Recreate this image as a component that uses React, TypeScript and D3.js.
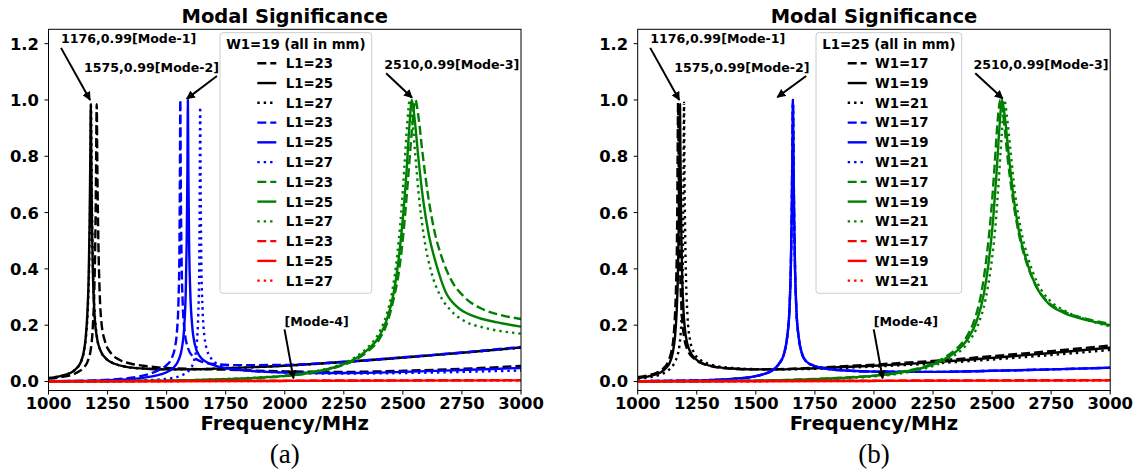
import React from 'react';
import * as d3 from 'd3';

type Pt = [number, number];

// axis ticks
const freqTicks = [1000, 1250, 1500, 1750, 2000, 2250, 2500, 2750, 3000];
const msTicks = [0, 0.2, 0.4, 0.6, 0.8, 1.0, 1.2];

// ---- panel (a): W1 = 19, L1 varies ----
const aBlack23: Pt[] = [[1000,0.010],[1050,0.015],[1100,0.024],[1130,0.036],[1150,0.05],[1165,0.07],[1180,0.12],[1188,0.2],[1194,0.33],[1198,0.5],[1201,0.72],[1204,0.985],[1207,0.74],[1211,0.5],[1216,0.33],[1224,0.21],[1240,0.14],[1265,0.1],[1300,0.077],[1350,0.063],[1400,0.056],[1500,0.048],[1750,0.042],[2000,0.036],[2250,0.034],[2500,0.038],[2750,0.045],[3000,0.055]];
const aBlack25: Pt[] = [[1000,0.012],[1050,0.019],[1080,0.026],[1100,0.034],[1120,0.048],[1135,0.066],[1148,0.1],[1158,0.16],[1165,0.25],[1170,0.37],[1174,0.56],[1177,0.8],[1179,0.985],[1181,0.8],[1184,0.56],[1188,0.38],[1194,0.25],[1204,0.16],[1220,0.11],[1245,0.08],[1280,0.063],[1330,0.052],[1400,0.046],[1500,0.043],[1600,0.043],[1750,0.047],[2000,0.056],[2250,0.069],[2500,0.085],[2750,0.102],[3000,0.121]];
const aBlack27: Pt[] = [[1000,0.012],[1050,0.019],[1080,0.026],[1100,0.034],[1120,0.047],[1135,0.065],[1148,0.098],[1158,0.155],[1166,0.25],[1171,0.37],[1175,0.56],[1178,0.8],[1180,0.98],[1182,0.8],[1185,0.56],[1189,0.38],[1195,0.25],[1205,0.16],[1220,0.11],[1245,0.08],[1280,0.063],[1330,0.052],[1400,0.046],[1500,0.043],[1600,0.043],[1750,0.047],[2000,0.056],[2250,0.069],[2500,0.085],[2750,0.102],[3000,0.12]];
const aBlue23: Pt[] = [[1000,0.001],[1100,0.002],[1200,0.004],[1300,0.009],[1380,0.017],[1430,0.028],[1470,0.042],[1500,0.058],[1520,0.08],[1535,0.12],[1544,0.18],[1550,0.28],[1554,0.45],[1556,0.7],[1558,1.0],[1560,0.7],[1563,0.45],[1568,0.28],[1576,0.18],[1590,0.12],[1610,0.09],[1650,0.07],[1700,0.062],[1800,0.058],[2000,0.059],[2250,0.07],[2500,0.086],[2750,0.103],[3000,0.123]];
const aBlue25: Pt[] = [[1000,0.001],[1100,0.002],[1200,0.003],[1300,0.006],[1400,0.013],[1450,0.02],[1500,0.033],[1530,0.05],[1550,0.075],[1565,0.12],[1575,0.2],[1581,0.32],[1585,0.5],[1588,0.75],[1590,1.0],[1592,0.75],[1595,0.5],[1600,0.32],[1608,0.2],[1620,0.13],[1640,0.09],[1670,0.068],[1720,0.053],[1800,0.042],[1900,0.035],[2000,0.032],[2250,0.03],[2500,0.034],[2750,0.041],[3000,0.048]];
const aBlue27: Pt[] = [[1000,0.0],[1200,0.001],[1350,0.003],[1450,0.006],[1520,0.012],[1570,0.024],[1600,0.045],[1618,0.08],[1628,0.14],[1634,0.24],[1638,0.4],[1640,0.65],[1642,0.975],[1644,0.68],[1647,0.42],[1652,0.26],[1660,0.16],[1672,0.11],[1690,0.08],[1720,0.06],[1780,0.045],[1850,0.038],[2000,0.032],[2250,0.028],[2500,0.03],[2750,0.034],[3000,0.039]];
const aGreen23: Pt[] = [[1000,0.0],[1250,0.001],[1500,0.003],[1750,0.008],[1900,0.013],[2000,0.019],[2100,0.029],[2200,0.046],[2250,0.059],[2300,0.078],[2350,0.106],[2400,0.15],[2430,0.2],[2460,0.29],[2485,0.4],[2505,0.55],[2522,0.72],[2538,0.89],[2553,1.0],[2566,0.94],[2582,0.82],[2605,0.67],[2632,0.54],[2665,0.44],[2705,0.36],[2760,0.3],[2830,0.26],[2920,0.235],[3000,0.222]];
const aGreen25: Pt[] = [[1000,0.0],[1250,0.001],[1500,0.003],[1750,0.008],[1900,0.014],[2000,0.02],[2100,0.03],[2200,0.048],[2250,0.062],[2300,0.082],[2350,0.112],[2400,0.16],[2430,0.215],[2460,0.31],[2480,0.42],[2500,0.58],[2515,0.74],[2527,0.9],[2538,1.0],[2550,0.93],[2565,0.8],[2585,0.65],[2610,0.52],[2640,0.42],[2680,0.32],[2730,0.265],[2800,0.232],[2900,0.21],[3000,0.195]];
const aGreen27: Pt[] = [[1000,0.0],[1250,0.001],[1500,0.003],[1750,0.009],[1900,0.015],[2000,0.021],[2100,0.032],[2200,0.05],[2250,0.065],[2300,0.087],[2350,0.12],[2400,0.175],[2430,0.235],[2455,0.32],[2475,0.44],[2493,0.6],[2507,0.77],[2518,0.91],[2529,1.0],[2540,0.93],[2553,0.8],[2570,0.64],[2592,0.5],[2620,0.39],[2655,0.31],[2700,0.255],[2760,0.215],[2850,0.19],[3000,0.17]];
const aRed23: Pt[] = [[1000,0.001],[1500,0.002],[2000,0.003],[2500,0.004],[3000,0.005]];
const aRed25: Pt[] = [[1000,0.001],[1500,0.001],[2000,0.002],[2500,0.003],[3000,0.004]];
const aRed27: Pt[] = [[1000,0.0],[1500,0.001],[2000,0.002],[2500,0.003],[3000,0.003]];

// ---- panel (b): L1 = 25, W1 varies ----
const bBlack17: Pt[] = [[1000,0.015],[1050,0.023],[1080,0.031],[1100,0.04],[1115,0.052],[1130,0.072],[1142,0.105],[1152,0.16],[1158,0.24],[1163,0.36],[1167,0.56],[1169,0.8],[1171,0.99],[1173,0.8],[1176,0.56],[1180,0.38],[1186,0.25],[1196,0.16],[1212,0.11],[1240,0.08],[1280,0.062],[1330,0.051],[1400,0.045],[1500,0.043],[1600,0.044],[1750,0.049],[2000,0.06],[2250,0.073],[2500,0.09],[2750,0.108],[3000,0.128]];
const bBlack19: Pt[] = [[1000,0.012],[1050,0.019],[1080,0.026],[1100,0.034],[1120,0.048],[1135,0.066],[1148,0.1],[1158,0.16],[1165,0.25],[1170,0.37],[1174,0.56],[1177,0.8],[1179,0.985],[1181,0.8],[1184,0.56],[1188,0.38],[1194,0.25],[1204,0.16],[1220,0.11],[1245,0.08],[1280,0.063],[1330,0.052],[1400,0.046],[1500,0.043],[1600,0.043],[1750,0.047],[2000,0.056],[2250,0.068],[2500,0.084],[2750,0.101],[3000,0.12]];
const bBlack21: Pt[] = [[1000,0.01],[1050,0.015],[1100,0.026],[1130,0.04],[1150,0.058],[1165,0.085],[1177,0.13],[1184,0.2],[1189,0.32],[1192,0.5],[1194,0.75],[1196,0.99],[1198,0.75],[1201,0.52],[1205,0.35],[1211,0.23],[1221,0.15],[1240,0.1],[1270,0.074],[1310,0.06],[1400,0.048],[1500,0.044],[1600,0.043],[1750,0.045],[2000,0.053],[2250,0.064],[2500,0.078],[2750,0.094],[3000,0.112]];
const bBlue17: Pt[] = [[1000,0.001],[1100,0.002],[1200,0.003],[1300,0.005],[1400,0.009],[1480,0.016],[1530,0.025],[1570,0.04],[1600,0.065],[1620,0.1],[1633,0.16],[1642,0.25],[1648,0.4],[1652,0.6],[1655,0.85],[1657,1.0],[1659,0.85],[1662,0.6],[1666,0.4],[1672,0.25],[1681,0.16],[1695,0.1],[1715,0.07],[1750,0.055],[1800,0.045],[1900,0.038],[2000,0.035],[2250,0.034],[2500,0.038],[2750,0.043],[3000,0.049]];
const bBlue19: Pt[] = [[1000,0.001],[1100,0.002],[1200,0.003],[1300,0.005],[1400,0.009],[1480,0.016],[1530,0.025],[1570,0.04],[1600,0.065],[1620,0.1],[1633,0.16],[1642,0.25],[1648,0.4],[1652,0.6],[1655,0.85],[1657,1.0],[1659,0.85],[1662,0.6],[1666,0.4],[1672,0.25],[1681,0.16],[1695,0.1],[1715,0.07],[1750,0.055],[1800,0.045],[1900,0.038],[2000,0.035],[2250,0.034],[2500,0.038],[2750,0.043],[3000,0.049]];
const bBlue21: Pt[] = [[1000,0.001],[1100,0.002],[1200,0.003],[1300,0.005],[1400,0.009],[1480,0.016],[1530,0.025],[1570,0.04],[1600,0.065],[1620,0.1],[1633,0.16],[1642,0.25],[1648,0.4],[1652,0.6],[1655,0.85],[1657,1.0],[1659,0.85],[1662,0.6],[1666,0.4],[1672,0.25],[1681,0.16],[1695,0.1],[1715,0.07],[1750,0.055],[1800,0.045],[1900,0.038],[2000,0.035],[2250,0.034],[2500,0.038],[2750,0.043],[3000,0.049]];
const bGreen17: Pt[] = [[1000,0.0],[1250,0.001],[1500,0.003],[1750,0.009],[1900,0.015],[2000,0.021],[2100,0.032],[2200,0.05],[2250,0.064],[2300,0.086],[2350,0.117],[2400,0.17],[2430,0.23],[2458,0.33],[2478,0.45],[2497,0.61],[2511,0.77],[2523,0.92],[2535,1.0],[2548,0.94],[2565,0.8],[2586,0.66],[2612,0.53],[2643,0.43],[2683,0.345],[2733,0.285],[2800,0.25],[2900,0.222],[3000,0.205]];
const bGreen19: Pt[] = [[1000,0.0],[1250,0.001],[1500,0.003],[1750,0.008],[1900,0.014],[2000,0.02],[2100,0.03],[2200,0.047],[2250,0.06],[2300,0.08],[2350,0.108],[2400,0.155],[2435,0.215],[2465,0.31],[2485,0.42],[2505,0.58],[2519,0.74],[2531,0.9],[2542,1.0],[2554,0.94],[2570,0.81],[2590,0.66],[2615,0.53],[2645,0.43],[2685,0.34],[2735,0.28],[2800,0.245],[2900,0.218],[3000,0.2]];
const bGreen21: Pt[] = [[1000,0.0],[1250,0.001],[1500,0.002],[1750,0.007],[1900,0.012],[2000,0.018],[2100,0.027],[2200,0.043],[2250,0.055],[2300,0.073],[2350,0.098],[2400,0.14],[2440,0.2],[2472,0.29],[2494,0.4],[2514,0.55],[2528,0.71],[2541,0.88],[2552,1.0],[2563,0.94],[2578,0.82],[2597,0.67],[2622,0.54],[2652,0.44],[2692,0.35],[2742,0.29],[2810,0.25],[2900,0.22],[3000,0.195]];
const bRed17: Pt[] = [[1000,0.001],[1500,0.002],[2000,0.003],[2500,0.004],[3000,0.005]];
const bRed19: Pt[] = [[1000,0.001],[1500,0.001],[2000,0.002],[2500,0.003],[3000,0.004]];
const bRed21: Pt[] = [[1000,0.0],[1500,0.001],[2000,0.002],[2500,0.003],[3000,0.003]];

// annotations: label, text anchor (freq, ms), arrow tail, arrow tip
type Note = { text: string; tx: number; ty: number; fx: number; fy: number; px: number; py: number };
const notesA: Note[] = [
  { text: '1176,0.99[Mode-1]', tx: 1053, ty: 1.201, fx: 1053, fy: 1.185, px: 1176, py: 1.0 },
  { text: '1575,0.99[Mode-2]', tx: 1150, ty: 1.1, fx: 1713, fy: 1.085, px: 1585, py: 1.004 },
  { text: '2510,0.99[Mode-3]', tx: 2421, ty: 1.11, fx: 2429, fy: 1.095, px: 2539, py: 1.008 },
  { text: '[Mode-4]', tx: 1999, ty: 0.198, fx: 1999, fy: 0.185, px: 2037, py: 0.011 },
];
const notesB: Note[] = [
  { text: '1176,0.99[Mode-1]', tx: 1053, ty: 1.201, fx: 1053, fy: 1.185, px: 1176, py: 1.0 },
  { text: '1575,0.99[Mode-2]', tx: 1155, ty: 1.1, fx: 1713, fy: 1.085, px: 1591, py: 1.01 },
  { text: '2510,0.99[Mode-3]', tx: 2421, ty: 1.11, fx: 2429, fy: 1.095, px: 2545, py: 1.005 },
  { text: '[Mode-4]', tx: 1999, ty: 0.198, fx: 1999, fy: 0.185, px: 2037, py: 0.011 },
];

type Series = { label: string; color: string; style: string; data: Pt[] };
const mk = (labels: string[], sets: Pt[][]): Series[] => {
  const cols = ['#000000', '#0000ff', '#008000', '#ff0000'];
  const styles = ['--', '-', ':'];
  return sets.map((d, i) => ({ label: labels[i % 3], color: cols[Math.floor(i / 3)], style: styles[i % 3], data: d }));
};
const seriesA = mk(['L1=23', 'L1=25', 'L1=27'], [aBlack23, aBlack25, aBlack27, aBlue23, aBlue25, aBlue27, aGreen23, aGreen25, aGreen27, aRed23, aRed25, aRed27]);
const seriesB = mk(['W1=17', 'W1=19', 'W1=21'], [bBlack17, bBlack19, bBlack21, bBlue17, bBlue19, bBlue21, bGreen17, bGreen19, bGreen21, bRed17, bRed19, bRed21]);

const FONT = '"DejaVu Sans", sans-serif';
const LW = 2.4;
const dashFor = (s: string) => (s === '--' ? '9,4' : s === ':' ? '2.4,4' : undefined);

const TOP = 29.3;
const BOTTOM = 390.5;
const PW = 472.5;

type PanelProps = {
  id: string; left: number; series: Series[]; notes: Note[]; legendTitle: string;
  legendLeft: number; legendWidth: number; handleX: number; labelX: number; caption: string;
};

function Panel({ id, left, series, notes, legendTitle, legendLeft, legendWidth, handleX, labelX, caption }: PanelProps) {
  const x = d3.scaleLinear().domain([1000, 3000]).range([left, left + PW]);
  const y = d3.scaleLinear().domain([-0.032, 1.251]).range([BOTTOM, TOP]);
  const line = d3.line<Pt>().x(d => x(d[0])).y(d => y(d[1])).curve(d3.curveMonotoneX);
  const cx = left + PW / 2;
  const legTop = 32.7;
  const rowY = (i: number) => 63.3 + i * 19.76;
  return (
    <g>
      <defs>
        <clipPath id={`clip-${id}`}>
          <rect x={left} y={TOP} width={PW} height={BOTTOM - TOP} />
        </clipPath>
        <marker id={`head-${id}`} viewBox="0 0 10 10" refX="9" refY="5" markerWidth="4.4" markerHeight="4.4" orient="auto" markerUnits="strokeWidth">
          <path d="M0,0 L10,5 L0,10 z" fill="#000" />
        </marker>
      </defs>
      <g clipPath={`url(#clip-${id})`}>
        {series.map((s, i) => (
          <path key={i} d={line(s.data) || ''} fill="none" stroke={s.color} strokeWidth={LW}
            strokeDasharray={dashFor(s.style)} strokeLinejoin="round" />
        ))}
      </g>
      {/* frame */}
      <rect x={left} y={TOP} width={PW} height={BOTTOM - TOP} fill="none" stroke="#000" strokeWidth={1} />
      {/* x ticks */}
      {freqTicks.map(t => (
        <g key={t}>
          <line x1={x(t)} x2={x(t)} y1={BOTTOM} y2={BOTTOM + 4} stroke="#000" strokeWidth={1} />
          <text x={x(t)} y={409.3} textAnchor="middle" fontFamily={FONT} fontWeight="bold" fontSize={16.4}>{t}</text>
        </g>
      ))}
      {/* y ticks */}
      {msTicks.map(t => (
        <g key={t}>
          <line x1={left - 4} x2={left} y1={y(t)} y2={y(t)} stroke="#000" strokeWidth={1} />
          <text x={left - 9.5} y={y(t) + 6} textAnchor="end" fontFamily={FONT} fontWeight="bold" fontSize={16.4}>{t.toFixed(1)}</text>
        </g>
      ))}
      <text x={cx} y={23.3} textAnchor="middle" fontFamily={FONT} fontWeight="bold" fontSize={19.5}>Modal Significance</text>
      <text x={cx} y={430} textAnchor="middle" fontFamily={FONT} fontWeight="bold" fontSize={19.5}>Frequency/MHz</text>
      <text x={cx} y={463} textAnchor="middle" fontFamily='"Liberation Serif", "Times New Roman", serif' fontSize={27}>{caption}</text>
      {/* annotations */}
      {notes.map((n, i) => (
        <g key={i}>
          <text x={x(n.tx)} y={y(n.ty)} fontFamily={FONT} fontWeight="bold" fontSize={12.6}>{n.text}</text>
          <line x1={x(n.fx)} y1={y(n.fy)} x2={x(n.px)} y2={y(n.py)} stroke="#000" strokeWidth={2} markerEnd={`url(#head-${id})`} />
        </g>
      ))}
      {/* legend */}
      <rect x={legendLeft} y={legTop} width={legendWidth} height={293.3 - legTop} rx={3} fill="#fff" fillOpacity={0.8} stroke="#cccccc" strokeWidth={1} />
      <text x={legendLeft + legendWidth / 2} y={48.8} textAnchor="middle" fontFamily={FONT} fontWeight="bold" fontSize={13.3}>{legendTitle}</text>
      {series.map((s, i) => (
        <g key={i}>
          <line x1={handleX} x2={handleX + 19} y1={rowY(i)} y2={rowY(i)} stroke={s.color} strokeWidth={LW} strokeDasharray={dashFor(s.style)} />
          <text x={labelX} y={rowY(i) + 4.9} fontFamily={FONT} fontWeight="bold" fontSize={13.3}>{s.label}</text>
        </g>
      ))}
    </g>
  );
}

export default function App() {
  return (
    <div>
      <style>{'body{margin:0;background:#fff}'}</style>
      <svg width={1138} height={470} style={{ display: 'block' }}>
        <rect width={1138} height={470} fill="#fff" />
        <Panel id="a" left={48.5} series={seriesA} notes={notesA} legendTitle="W1=19 (all in mm)"
          legendLeft={220} legendWidth={151.7} handleX={257.3} labelX={285.7} caption="(a)" />
        <Panel id="b" left={637.7} series={seriesB} notes={notesB} legendTitle="L1=25 (all in mm)"
          legendLeft={816} legendWidth={145.7} handleX={847.7} labelX={875} caption="(b)" />
      </svg>
    </div>
  );
}
